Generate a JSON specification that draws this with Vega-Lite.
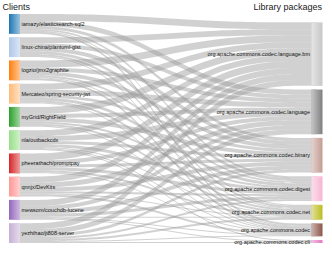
{
  "$schema": "https://vega.github.io/schema/vega-lite/v6.json",
  "width": 302.5,
  "height": 229,
  "autosize": {"type": "none"},
  "padding": {"left": 14.5, "top": 14, "right": 15, "bottom": 12},
  "config": {"view": {"stroke": null}, "font": "Liberation Sans"},
  "datasets": {
    "links": [
      {"c": "iamazy/elasticsearch-sql2", "p": "org.apache.commons.codec.language.bm", "v": 7},
      {"c": "iamazy/elasticsearch-sql2", "p": "org.apache.commons.codec.language", "v": 5},
      {"c": "iamazy/elasticsearch-sql2", "p": "org.apache.commons.codec.binary", "v": 3},
      {"c": "iamazy/elasticsearch-sql2", "p": "org.apache.commons.codec.digest", "v": 2},
      {"c": "iamazy/elasticsearch-sql2", "p": "org.apache.commons.codec.net", "v": 1},
      {"c": "iamazy/elasticsearch-sql2", "p": "org.apache.commons.codec", "v": 2},
      {"c": "iamazy/elasticsearch-sql2", "p": "org.apache.commons.codec.cli", "v": 0},
      {"c": "linux-china/plantuml-gist", "p": "org.apache.commons.codec.language.bm", "v": 6},
      {"c": "linux-china/plantuml-gist", "p": "org.apache.commons.codec.language", "v": 4},
      {"c": "linux-china/plantuml-gist", "p": "org.apache.commons.codec.binary", "v": 4},
      {"c": "linux-china/plantuml-gist", "p": "org.apache.commons.codec.digest", "v": 3},
      {"c": "linux-china/plantuml-gist", "p": "org.apache.commons.codec.net", "v": 2},
      {"c": "linux-china/plantuml-gist", "p": "org.apache.commons.codec", "v": 1},
      {"c": "linux-china/plantuml-gist", "p": "org.apache.commons.codec.cli", "v": 0},
      {"c": "logzio/jmx2graphite", "p": "org.apache.commons.codec.language.bm", "v": 7},
      {"c": "logzio/jmx2graphite", "p": "org.apache.commons.codec.language", "v": 4},
      {"c": "logzio/jmx2graphite", "p": "org.apache.commons.codec.binary", "v": 4},
      {"c": "logzio/jmx2graphite", "p": "org.apache.commons.codec.digest", "v": 2},
      {"c": "logzio/jmx2graphite", "p": "org.apache.commons.codec.net", "v": 1},
      {"c": "logzio/jmx2graphite", "p": "org.apache.commons.codec", "v": 2},
      {"c": "logzio/jmx2graphite", "p": "org.apache.commons.codec.cli", "v": 0},
      {"c": "Mercateo/spring-security-jwt", "p": "org.apache.commons.codec.language.bm", "v": 6},
      {"c": "Mercateo/spring-security-jwt", "p": "org.apache.commons.codec.language", "v": 5},
      {"c": "Mercateo/spring-security-jwt", "p": "org.apache.commons.codec.binary", "v": 3},
      {"c": "Mercateo/spring-security-jwt", "p": "org.apache.commons.codec.digest", "v": 3},
      {"c": "Mercateo/spring-security-jwt", "p": "org.apache.commons.codec.net", "v": 2},
      {"c": "Mercateo/spring-security-jwt", "p": "org.apache.commons.codec", "v": 1},
      {"c": "Mercateo/spring-security-jwt", "p": "org.apache.commons.codec.cli", "v": 0},
      {"c": "myGrid/RightField", "p": "org.apache.commons.codec.language.bm", "v": 7},
      {"c": "myGrid/RightField", "p": "org.apache.commons.codec.language", "v": 4},
      {"c": "myGrid/RightField", "p": "org.apache.commons.codec.binary", "v": 4},
      {"c": "myGrid/RightField", "p": "org.apache.commons.codec.digest", "v": 2},
      {"c": "myGrid/RightField", "p": "org.apache.commons.codec.net", "v": 2},
      {"c": "myGrid/RightField", "p": "org.apache.commons.codec", "v": 1},
      {"c": "myGrid/RightField", "p": "org.apache.commons.codec.cli", "v": 0},
      {"c": "nla/outbackcdx", "p": "org.apache.commons.codec.language.bm", "v": 6},
      {"c": "nla/outbackcdx", "p": "org.apache.commons.codec.language", "v": 5},
      {"c": "nla/outbackcdx", "p": "org.apache.commons.codec.binary", "v": 3},
      {"c": "nla/outbackcdx", "p": "org.apache.commons.codec.digest", "v": 3},
      {"c": "nla/outbackcdx", "p": "org.apache.commons.codec.net", "v": 1},
      {"c": "nla/outbackcdx", "p": "org.apache.commons.codec", "v": 1},
      {"c": "nla/outbackcdx", "p": "org.apache.commons.codec.cli", "v": 1},
      {"c": "pheerathach/promptpay", "p": "org.apache.commons.codec.language.bm", "v": 7},
      {"c": "pheerathach/promptpay", "p": "org.apache.commons.codec.language", "v": 4},
      {"c": "pheerathach/promptpay", "p": "org.apache.commons.codec.binary", "v": 3},
      {"c": "pheerathach/promptpay", "p": "org.apache.commons.codec.digest", "v": 3},
      {"c": "pheerathach/promptpay", "p": "org.apache.commons.codec.net", "v": 2},
      {"c": "pheerathach/promptpay", "p": "org.apache.commons.codec", "v": 1},
      {"c": "pheerathach/promptpay", "p": "org.apache.commons.codec.cli", "v": 0},
      {"c": "qnnjx/DevKits", "p": "org.apache.commons.codec.language.bm", "v": 6},
      {"c": "qnnjx/DevKits", "p": "org.apache.commons.codec.language", "v": 5},
      {"c": "qnnjx/DevKits", "p": "org.apache.commons.codec.binary", "v": 4},
      {"c": "qnnjx/DevKits", "p": "org.apache.commons.codec.digest", "v": 2},
      {"c": "qnnjx/DevKits", "p": "org.apache.commons.codec.net", "v": 1},
      {"c": "qnnjx/DevKits", "p": "org.apache.commons.codec", "v": 2},
      {"c": "qnnjx/DevKits", "p": "org.apache.commons.codec.cli", "v": 0},
      {"c": "mewsom/couchdb-lucene", "p": "org.apache.commons.codec.language.bm", "v": 6},
      {"c": "mewsom/couchdb-lucene", "p": "org.apache.commons.codec.language", "v": 4},
      {"c": "mewsom/couchdb-lucene", "p": "org.apache.commons.codec.binary", "v": 4},
      {"c": "mewsom/couchdb-lucene", "p": "org.apache.commons.codec.digest", "v": 3},
      {"c": "mewsom/couchdb-lucene", "p": "org.apache.commons.codec.net", "v": 1},
      {"c": "mewsom/couchdb-lucene", "p": "org.apache.commons.codec", "v": 1},
      {"c": "mewsom/couchdb-lucene", "p": "org.apache.commons.codec.cli", "v": 1},
      {"c": "yezhihao/jt808-server", "p": "org.apache.commons.codec.language.bm", "v": 6},
      {"c": "yezhihao/jt808-server", "p": "org.apache.commons.codec.language", "v": 5},
      {"c": "yezhihao/jt808-server", "p": "org.apache.commons.codec.binary", "v": 3},
      {"c": "yezhihao/jt808-server", "p": "org.apache.commons.codec.digest", "v": 2},
      {"c": "yezhihao/jt808-server", "p": "org.apache.commons.codec.net", "v": 2},
      {"c": "yezhihao/jt808-server", "p": "org.apache.commons.codec", "v": 1},
      {"c": "yezhihao/jt808-server", "p": "org.apache.commons.codec.cli", "v": 1}
    ],
    "clients": [
      {"c": "iamazy/elasticsearch-sql2", "ci": 1},
      {"c": "linux-china/plantuml-gist", "ci": 2},
      {"c": "logzio/jmx2graphite", "ci": 3},
      {"c": "Mercateo/spring-security-jwt", "ci": 4},
      {"c": "myGrid/RightField", "ci": 5},
      {"c": "nla/outbackcdx", "ci": 6},
      {"c": "pheerathach/promptpay", "ci": 7},
      {"c": "qnnjx/DevKits", "ci": 8},
      {"c": "mewsom/couchdb-lucene", "ci": 9},
      {"c": "yezhihao/jt808-server", "ci": 10}
    ],
    "packages": [
      {"p": "org.apache.commons.codec.language.bm", "pi": 1},
      {"p": "org.apache.commons.codec.language", "pi": 2},
      {"p": "org.apache.commons.codec.binary", "pi": 3},
      {"p": "org.apache.commons.codec.digest", "pi": 4},
      {"p": "org.apache.commons.codec.net", "pi": 5},
      {"p": "org.apache.commons.codec", "pi": 6},
      {"p": "org.apache.commons.codec.cli", "pi": 7}
    ]
  },
  "data": {"name": "links"},
  "transform": [
    {"impute": "v", "key": "p", "keyvals": ["~gap"], "groupby": ["c"], "value": 3.43},
    {"impute": "v", "key": "c", "keyvals": ["~gap"], "groupby": ["p"], "value": 3.74},
    {"lookup": "c", "from": {"data": {"name": "clients"}, "key": "c", "fields": ["ci"]}, "default": 0},
    {"lookup": "p", "from": {"data": {"name": "packages"}, "key": "p", "fields": ["pi"]}, "default": 0},
    {"window": [{"op": "row_number", "as": "p0"}, {"op": "row_number", "as": "p1"}], "sort": [{"field": "ci"}, {"field": "pi"}]},
    {"window": [{"op": "row_number", "as": "p2"}, {"op": "row_number", "as": "p3"}], "sort": [{"field": "pi"}, {"field": "ci"}]},
    {"fold": ["p0", "p1", "p2", "p3"], "as": ["pos", "ord"]},
    {"stack": "v", "groupby": ["pos"], "sort": [{"field": "ord", "order": "ascending"}], "as": ["y0", "y1"]}
  ],
  "encoding": {
    "x": {"field": "pos", "type": "ordinal", "sort": ["p0", "p1", "p2", "p3"], "scale": {"type": "point", "padding": 0},
      "axis": {"orient": "top", "title": "Library packages", "titleX": 307, "titleY": -5, "titleAlign": "right", "titleAnchor": null, "titleBaseline": "alphabetic", "titleFontSize": 9, "titleFontWeight": "normal", "titleColor": "#222222", "labels": false, "ticks": false, "domain": false, "grid": false}}
  },
  "layer": [
    {
      "transform": [{"filter": "datum.ci > 0 && datum.pi > 0 && datum.v > 0"}],
      "mark": {"type": "area", "interpolate": "basis", "color": "#999999", "fillOpacity": 0.45},
      "encoding": {
        "y": {"field": "y0", "type": "quantitative", "scale": {"domain": [33.35, 264.22], "reverse": true, "nice": false, "zero": false},
          "axis": {"title": "Clients", "titleAngle": 0, "titleX": -12.5, "titleY": -5, "titleAlign": "left", "titleBaseline": "alphabetic", "titleFontSize": 9, "titleFontWeight": "normal", "titleColor": "#222222", "labels": false, "ticks": false, "domain": false, "grid": false}},
        "y2": {"field": "y1"},
        "detail": [{"field": "c"}, {"field": "p"}]
      }
    },
    {
      "transform": [
        {"filter": "datum.pos == 'p0' && datum.ci > 0 && datum.pi > 0"},
        {"aggregate": [{"op": "min", "field": "y0", "as": "a"}, {"op": "max", "field": "y1", "as": "b"}], "groupby": ["c", "pos"]}
      ],
      "layer": [
        {
          "mark": {"type": "bar", "width": 11},
          "encoding": {
            "y": {"field": "a", "type": "quantitative"},
            "y2": {"field": "b"},
            "color": {"field": "c", "type": "nominal", "legend": null,
              "scale": {"domain": ["iamazy/elasticsearch-sql2", "linux-china/plantuml-gist", "logzio/jmx2graphite", "Mercateo/spring-security-jwt", "myGrid/RightField", "nla/outbackcdx", "pheerathach/promptpay", "qnnjx/DevKits", "mewsom/couchdb-lucene", "yezhihao/jt808-server", "org.apache.commons.codec.language.bm", "org.apache.commons.codec.language", "org.apache.commons.codec.binary", "org.apache.commons.codec.digest", "org.apache.commons.codec.net", "org.apache.commons.codec", "org.apache.commons.codec.cli"],
                "range": ["#1f77b4", "#aec7e8", "#ff7f0e", "#ffbb78", "#2ca02c", "#98df8a", "#d62728", "#ff9896", "#9467bd", "#c5b0d5", "#c7c7c7", "#7f7f7f", "#c49c94", "#f7b6d2", "#bcbd22", "#8c564b", "#e377c2"]}}
          }
        },
        {
          "mark": {"type": "bar", "width": 11, "color": {"gradient": "linear", "x1": 0, "x2": 1, "y1": 0, "y2": 0, "stops": [{"offset": 0, "color": "rgba(255,255,255,0)"}, {"offset": 1, "color": "rgba(255,255,255,0.55)"}]}},
          "encoding": {
            "y": {"field": "a", "type": "quantitative"},
            "y2": {"field": "b"}
          }
        },
        {
          "transform": [
            {"fold": ["a", "b"], "as": ["edge", "yy"]},
            {"aggregate": [{"op": "mean", "field": "yy", "as": "ym"}], "groupby": ["c", "pos"]}
          ],
          "mark": {"type": "text", "align": "left", "baseline": "middle", "dx": 7, "fontSize": 5.5, "color": "#111111"},
          "encoding": {
            "y": {"field": "ym", "type": "quantitative"},
            "text": {"field": "c"}
          }
        }
      ]
    },
    {
      "transform": [
        {"filter": "datum.pos == 'p3' && datum.ci > 0 && datum.pi > 0"},
        {"aggregate": [{"op": "min", "field": "y0", "as": "a"}, {"op": "max", "field": "y1", "as": "b"}], "groupby": ["p", "pos"]}
      ],
      "layer": [
        {
          "mark": {"type": "bar", "width": 11},
          "encoding": {
            "y": {"field": "a", "type": "quantitative"},
            "y2": {"field": "b"},
            "color": {"field": "p", "type": "nominal", "legend": null}
          }
        },
        {
          "mark": {"type": "bar", "width": 11, "color": {"gradient": "linear", "x1": 0, "x2": 1, "y1": 0, "y2": 0, "stops": [{"offset": 0, "color": "rgba(255,255,255,0.55)"}, {"offset": 1, "color": "rgba(255,255,255,0)"}]}},
          "encoding": {
            "y": {"field": "a", "type": "quantitative"},
            "y2": {"field": "b"}
          }
        },
        {
          "transform": [
            {"fold": ["a", "b"], "as": ["edge", "yy"]},
            {"aggregate": [{"op": "mean", "field": "yy", "as": "ym"}], "groupby": ["p", "pos"]}
          ],
          "mark": {"type": "text", "align": "right", "baseline": "middle", "dx": -7, "fontSize": 5.5, "color": "#111111"},
          "encoding": {
            "y": {"field": "ym", "type": "quantitative"},
            "text": {"field": "p"}
          }
        }
      ]
    }
  ]
}
